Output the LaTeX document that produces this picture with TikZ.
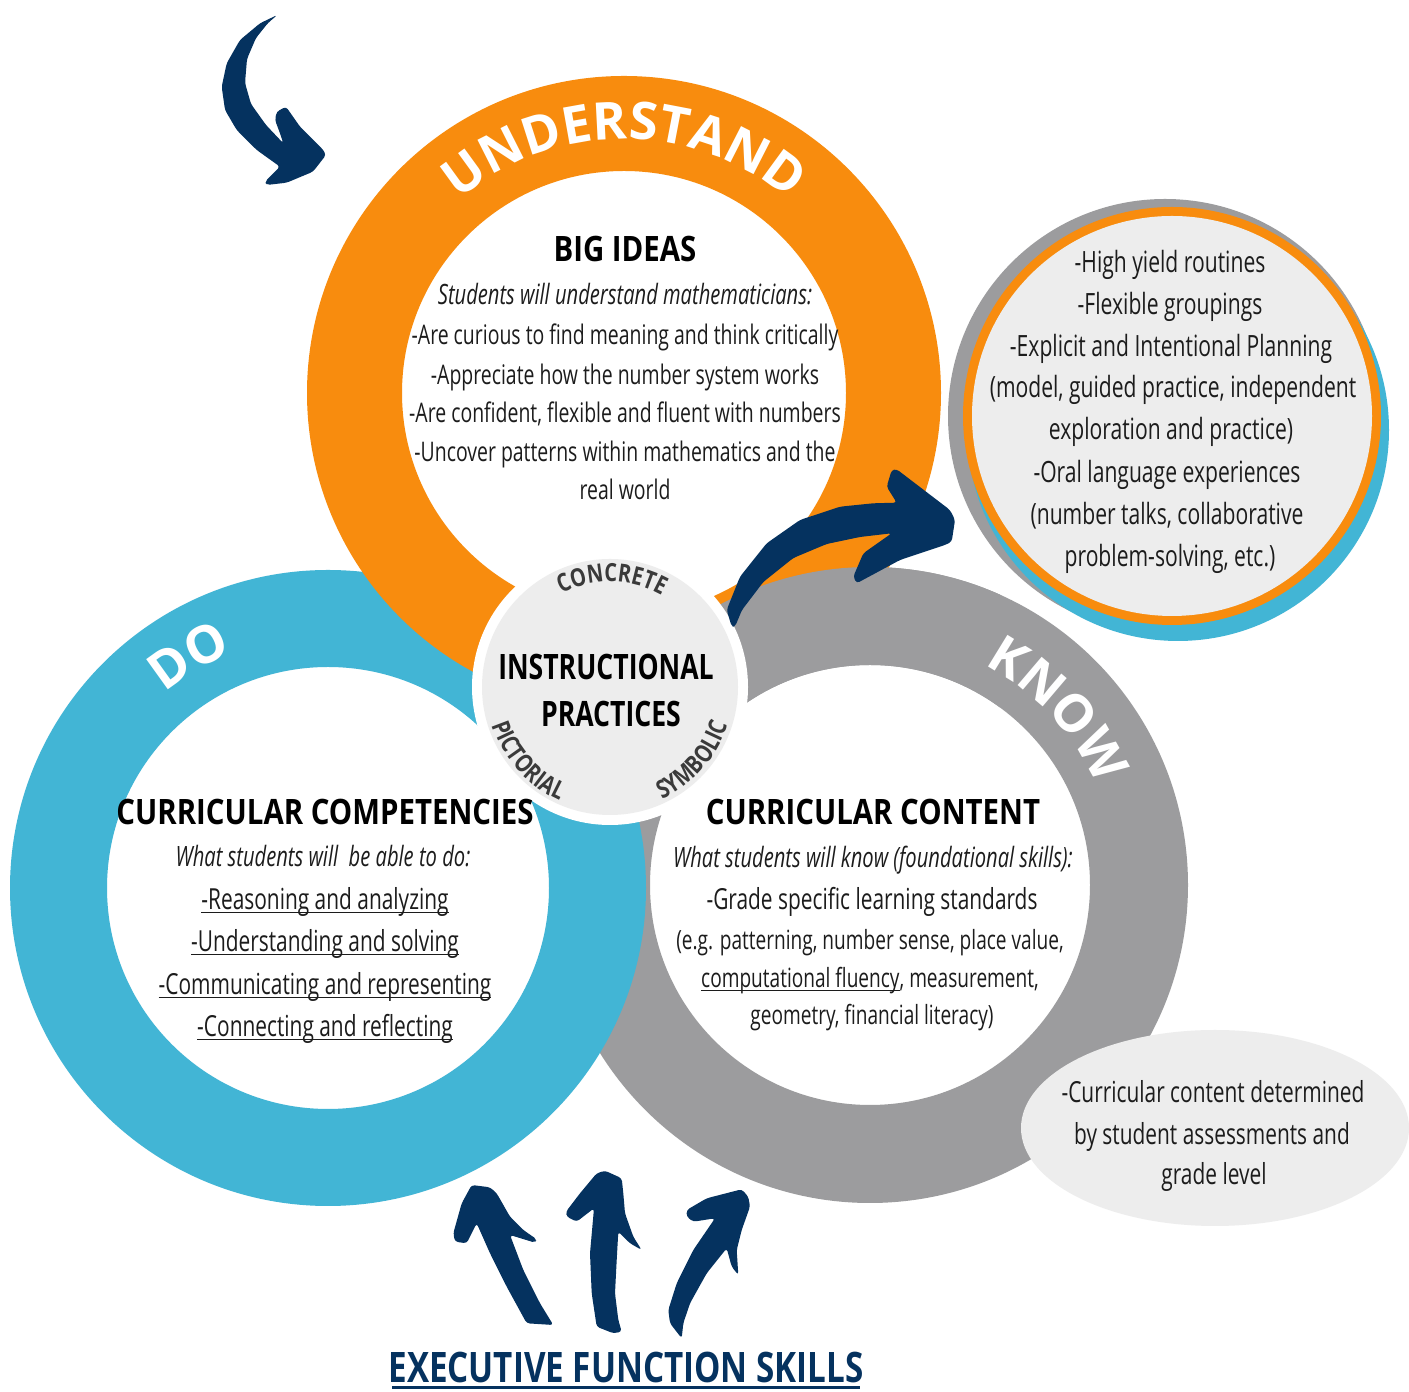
\documentclass[tikz,border=0pt]{standalone}
\usepackage{fontspec}
\newfontfamily\bodyfont{Open Sans}[FakeStretch=0.72]
\newfontfamily\headfont{Open Sans}[FakeStretch=0.84]
\newfontfamily\ipfont{Open Sans}[FakeStretch=0.76]
\newfontfamily\execfont{Open Sans}[FakeStretch=0.79]
\newfontfamily\ringfont{Open Sans}
\newfontfamily\cpfont{Open Sans}[FakeStretch=0.8]
\usetikzlibrary{decorations.text}
\definecolor{orng}{HTML}{F88C0E}
\definecolor{skyb}{HTML}{42B5D5}
\definecolor{gryr}{HTML}{9C9C9E}
\definecolor{navy}{HTML}{05325F}
\definecolor{lite}{HTML}{EDEDED}
\definecolor{lbl}{HTML}{3A3A3A}
\definecolor{txt}{HTML}{1C1C1C}
\newcommand\myul[1]{\setbox0=\hbox{#1}\rlap{\rule[-3.5pt]{\wd0}{1.6pt}}\box0}
\newcommand\arctext[8]{%
\path[decorate, decoration={text along path, text align=center, text color=#8, text={|#6|#7}}]
 ({#1+#3*cos(#4)},{#2+#3*sin(#4)}) arc[start angle=#4, end angle=#5, radius=#3];}
\tikzset{
 bdbase/.style={text=txt, anchor=base, inner sep=0pt},
 bdb/.style={bdbase, font=\bodyfont\fontsize{27}{33}\selectfont},
 bd/.style={bdbase, font=\bodyfont\fontsize{29}{34}\selectfont},
 bdr/.style={bdbase, font=\bodyfont\fontsize{29.3}{34}\selectfont},
 bdi/.style={bdbase, font=\bodyfont\itshape\fontsize{28}{34}\selectfont},
 bds/.style={bdbase, font=\bodyfont\fontsize{26.5}{32}\selectfont},
 bde/.style={bdbase, font=\bodyfont\fontsize{29}{34}\selectfont},
 hd/.style={font=\headfont\bfseries\fontsize{35}{40}\selectfont, text=black, anchor=base, inner sep=0pt},
 hdc/.style={font=\ipfont\bfseries\fontsize{35}{40}\selectfont, text=black, anchor=base, inner sep=0pt},
 arrowfill/.style={fill=navy, rounded corners=3pt}
}
\begin{document}
\begin{tikzpicture}[x=1pt,y=1pt]
\useasboundingbox (0,0) rectangle (1409,1392);
\fill[white] (0,0) rectangle (1409,1392);

% interlocking rings
\fill[gryr, even odd rule] (870,507) circle (318) (870,507) circle (220);
\fill[skyb, even odd rule] (328,504) circle (318) (328,504) circle (221);
\fill[orng, even odd rule] (624,999) circle (317) (624,999) circle (222);
\begin{scope}
 \clip (650,672) rectangle (1000,952);
 \fill[gryr, even odd rule] (870,507) circle (318) (870,507) circle (220);
\end{scope}

% central circle
\fill[white] (610,705) circle (138);
\fill[lite] (610,705) circle (128);

% ring labels
\arctext{624}{999}{254}{160}{20}{\ringfont\bfseries\fontsize{52}{60}\selectfont}{UNDERSTAND}{white}
\arctext{328}{504}{254}{171}{71}{\ringfont\bfseries\fontsize{52}{60}\selectfont}{DO}{white}
\arctext{870}{507}{248}{93}{-7}{\ringfont\bfseries\fontsize{52}{60}\selectfont}{KNOW}{white}
\arctext{610}{705}{105}{149}{29}{\cpfont\bfseries\fontsize{25}{30}\selectfont}{CONCRETE}{lbl}
\arctext{610}{705}{124}{172}{272}{\cpfont\bfseries\fontsize{25}{30}\selectfont}{PICTORIAL}{lbl}
\arctext{610}{705}{124}{268.5}{368.5}{\cpfont\bfseries\fontsize{25}{30}\selectfont}{SYMBOLIC}{lbl}

% routines circle
\fill[gryr] (1165,976) circle (217);
\fill[skyb] (1178,962) circle (211);
\fill[orng] (1172,976) circle (209);
\fill[lite] (1172,976) circle (200);

% ellipse
\fill[lite] (1215,264) ellipse [x radius=194, y radius=98];

% arrows
\begin{scope}[shift={(0,1392)}, yscale=-1]
\fill[arrowfill] (277.3,15) -- (260,23.3) -- (240,40) -- (226.7,63.3) -- (221.7,86.7) -- (225,110) -- (236.7,130) -- (256.7,150) -- (280,166.7) -- (265,181.7) -- (266.7,185) -- (286.7,182.7) -- (313,171.7) -- (326,155) -- (323.3,150) -- (300,126.7) -- (286,106.7) -- (276.7,111.7) -- (275,120) -- (280,133.3) -- (283.3,143.3) -- (266,125) -- (251,104) -- (245,83) -- (247,59) -- (256,38) -- (268,23) -- cycle;
\fill[arrowfill] (731.7,626.7) -- (726.7,610) -- (740,576.7) -- (766.7,543.3) -- (800,520) -- (840,506.7) -- (873.3,503.3) -- (896.7,502.7) -- (886.7,486.7) -- (891.7,470) -- (896.7,469.3) -- (950,510) -- (955,520) -- (951.7,541.7) -- (945,545) -- (900,560) -- (856.7,583.3) -- (853.3,576.7) -- (863.3,553.3) -- (891.7,533.3) -- (860,537) -- (826.7,544) -- (793.3,558) -- (763.3,582) -- (742,610) -- (735,626.7) -- cycle;
\fill[arrowfill] (553.3,1325) -- (526.7,1323.3) -- (506.7,1286.7) -- (490,1253.3) -- (476.7,1223.3) -- (466.7,1243.3) -- (455,1241.7) -- (453.3,1233.3) -- (461.7,1203.3) -- (471.7,1185) -- (490,1187.3) -- (496.7,1193.3) -- (510,1216.7) -- (523.3,1230) -- (536.7,1239.3) -- (535,1242.7) -- (510,1235) -- (523.3,1270) -- (540,1303.3) -- cycle;
\fill[arrowfill] (621.7,1331.7) -- (613.3,1333.3) -- (596.7,1326.7) -- (591.7,1293.3) -- (590,1253.3) -- (594,1208.3) -- (576.7,1221.7) -- (566.7,1216.7) -- (566,1211.7) -- (580,1193.3) -- (596.7,1173.3) -- (605,1170.7) -- (621.7,1178.3) -- (623.3,1193.3) -- (625,1213.3) -- (633.3,1236.7) -- (641.7,1250) -- (630,1243.3) -- (618.3,1231.7) -- (616.7,1260) -- (615,1293.3) -- (618.3,1320) -- cycle;
\fill[arrowfill] (681.7,1338.3) -- (670,1323.3) -- (668.3,1310) -- (676.7,1283.3) -- (693.3,1250) -- (715,1218.3) -- (693.3,1221.7) -- (686.7,1216.7) -- (686.7,1210) -- (706.7,1198.3) -- (741.7,1189.3) -- (748.3,1196.7) -- (750,1206.7) -- (741.7,1230) -- (736.7,1250) -- (738.3,1275) -- (731.7,1266.7) -- (726.7,1248.3) -- (706.7,1273.3) -- (690,1303.3) -- (683.3,1323.3) -- cycle;
\end{scope}

% BIG IDEAS
\node[hd] (bi) at (625,1392-262) {BIG IDEAS};
\node[bdi] (bi0) at (625,1392-305) {Students will understand mathematicians:};
\node[bdb] (bi1) at (625,1392-345) {-Are curious to find meaning and think critically};
\node[bdb] (bi2) at (625,1392-385) {-Appreciate how the number system works};
\node[bdb] (bi3) at (625,1392-423) {-Are confident, flexible and fluent with numbers};
\node[bdb] (bi4) at (625,1392-462) {-Uncover patterns within mathematics and the};
\node[bdb] (bi5) at (625,1392-500) {real world};

% central
\node[hdc] (ip1) at (606,1392-680) {INSTRUCTIONAL};
\node[hdc] (ip2) at (611,1392-727) {PRACTICES};

% competencies
\node[hd] (cc) at (325,1392-825) {CURRICULAR COMPETENCIES};
\node[bdi] (cc0) at (323,1392-867) {What students will\ \ be able to do:};
\node[bd] (cc1) at (325,1392-910) {\myul{-Reasoning and analyzing}};
\node[bd] (cc2) at (325,1392-952) {\myul{-Understanding and solving}};
\node[bd] (cc3) at (325,1392-995) {\myul{-Communicating and representing}};
\node[bd] (cc4) at (325,1392-1037) {\myul{-Connecting and reflecting}};

% content
\node[hd] (ct) at (873,1392-825) {CURRICULAR CONTENT};
\node[bdi] (ct0) at (873,1392-868) {What students will know (foundational skills):};
\node[bd] (ct1) at (872,1392-910) {-Grade specific learning standards};
\node[bds] (ct2) at (870,1392-950) {(e.g. patterning, number sense, place value,};
\node[bds] (ct3) at (870,1392-988) {\myul{computational fluency}, measurement,};
\node[bds] (ct4) at (872,1392-1025) {geometry, financial literacy)};

% routines
\node[bdr] (r1) at (1170,1392-273) {-High yield routines};
\node[bdr] (r2) at (1170,1392-315) {-Flexible groupings};
\node[bdr] (r3) at (1171,1392-357) {-Explicit and Intentional Planning};
\node[bdr] (r4) at (1173,1392-398) {(model, guided practice, independent};
\node[bdr] (r5) at (1171,1392-440) {exploration and practice)};
\node[bdr] (r6) at (1167,1392-483) {-Oral language experiences};
\node[bdr] (r7) at (1167,1392-525) {(number talks, collaborative};
\node[bdr] (r8) at (1170,1392-567) {problem-solving, etc.)};

% ellipse text
\node[bde] (e1) at (1213,1392-1103) {-Curricular content determined};
\node[bde] (e2) at (1212,1392-1145) {by student assessments and};
\node[bde] (e3) at (1214,1392-1185) {grade level};

% executive function skills
\node[font=\execfont\bfseries\fontsize{42}{48}\selectfont, text=navy, anchor=base, inner sep=0pt] (ex) at (626,1392-1383) {EXECUTIVE FUNCTION SKILLS};
\fill[navy] (392,1392-1389.5) rectangle (860,1392-1386.5);
\end{tikzpicture}
\end{document}
